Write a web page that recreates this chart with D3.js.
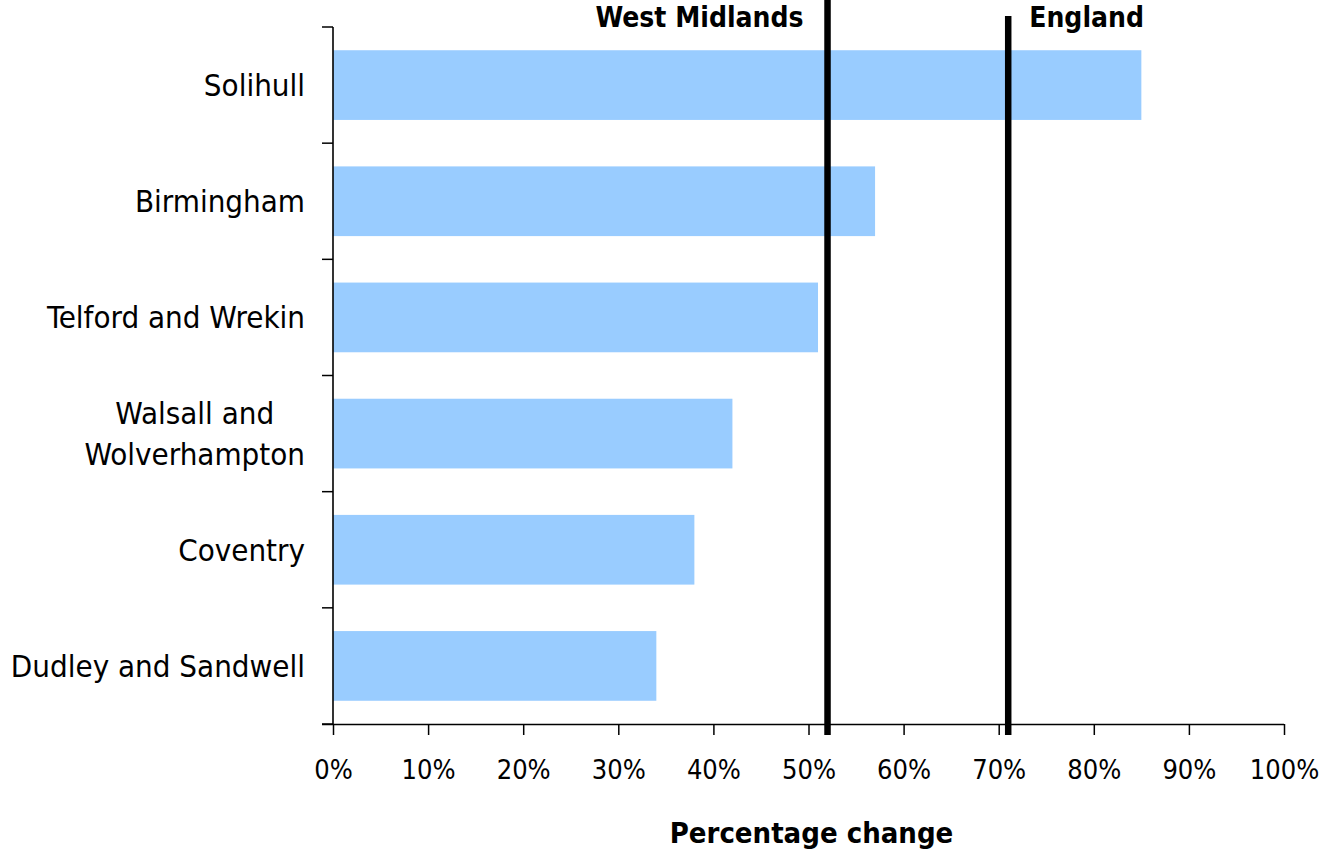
<!DOCTYPE html>
<html>
<head>
<meta charset="utf-8">
<script src="https://cdn.jsdelivr.net/npm/d3@7"></script>
<style>
body { margin: 0; background: #fff; }
svg { display: block; }
text { font-family: "DejaVu Sans", sans-serif; font-stretch: condensed; fill: #000; }
</style>
</head>
<body>
<svg id="chart" width="1320" height="851"></svg>
<script>
const categories = ["Solihull", "Birmingham", "Telford and Wrekin", "Walsall and\nWolverhampton", "Coventry", "Dudley and Sandwell"];
const values = [85, 57, 51, 42, 38, 34];
const refNames = ["West Midlands", "England"];
const refValues = [52, 71];
const xTicks = [0, 10, 20, 30, 40, 50, 60, 70, 80, 90, 100];
const xTitle = "Percentage change";

(function () {
const svg = d3.select("#chart");
const mLeft = 333, mRight = 1284, mTop = 27, mBottom = 724;
const FONT = "'DejaVu Sans', sans-serif";

const x = d3.scaleLinear().domain([0, 100]).range([mLeft, mRight]);
const y = d3.scaleBand().domain(categories).range([mTop, mBottom]).paddingInner(0.4).paddingOuter(0.2);

// bars
svg.append("g").selectAll("rect").data(values).join("rect")
  .attr("x", x(0))
  .attr("y", (d, i) => y(categories[i]))
  .attr("width", d => x(d) - x(0))
  .attr("height", y.bandwidth())
  .attr("fill", "#99CCFF");

// x axis
const xAxis = d3.axisBottom(x).tickValues(xTicks).tickFormat(d => d + "%").tickSize(11).tickSizeOuter(0).tickPadding(28);
const gx = svg.append("g").attr("transform", `translate(0,${mBottom})`).call(xAxis);
gx.select(".domain").attr("stroke", "#000").attr("stroke-width", 1.6).attr("d", `M${mLeft - 11},0.5H${mRight}`);
gx.selectAll(".tick line").attr("stroke", "#000").attr("stroke-width", 1.5);
gx.selectAll(".tick text").attr("font-size", 27).attr("font-family", FONT).attr("fill", "#000").attr("dy", "0.6em");

// y axis: line and ticks at band boundaries
const step = y.step();
const bounds = d3.range(categories.length + 1).map(i => mTop + i * step);
svg.append("line").attr("x1", mLeft).attr("x2", mLeft).attr("y1", mTop).attr("y2", mBottom)
  .attr("stroke", "#000").attr("stroke-width", 1.6);
svg.append("g").selectAll("line").data(bounds).join("line")
  .attr("x1", mLeft - 11).attr("x2", mLeft).attr("y1", d => d).attr("y2", d => d)
  .attr("stroke", "#000").attr("stroke-width", 1.5);

// category labels
const labG = svg.append("g");
categories.forEach((c, i) => {
  const lines = c.split("\n");
  const cy = y(c) + y.bandwidth() / 2;
  const lh = 41;
  const t = labG.append("text").attr("font-size", 31)
    .attr("font-family", FONT)
    .attr("text-anchor", "middle");
  lines.forEach((l, j) => {
    t.append("tspan").attr("x", 0).attr("y", cy + 11 + (j - (lines.length - 1) / 2) * lh).text(l);
  });
  let maxW = 0;
  t.selectAll("tspan").each(function() { maxW = Math.max(maxW, this.getComputedTextLength()); });
  t.selectAll("tspan").attr("x", 305 - maxW / 2);
});

// reference lines
refValues.forEach((v, i) => {
  svg.append("line").attr("x1", x(v)).attr("x2", x(v))
    .attr("y1", i === 0 ? 0 : 16).attr("y2", mBottom + 11)
    .attr("stroke", "#000").attr("stroke-width", 6.5);
});
svg.append("text").attr("x", x(refValues[0]) - 24).attr("y", 27).attr("text-anchor", "end")
  .attr("font-size", 28).attr("font-weight", "bold")
  .attr("font-family", FONT).text(refNames[0]);
svg.append("text").attr("x", x(refValues[1]) + 21).attr("y", 27).attr("text-anchor", "start")
  .attr("font-size", 28).attr("font-weight", "bold")
  .attr("font-family", FONT).text(refNames[1]);

// axis title
svg.append("text").attr("x", (mLeft + mRight) / 2 + 3).attr("y", 843).attr("text-anchor", "middle")
  .attr("font-size", 29).attr("font-weight", "bold")
  .attr("font-family", FONT).text(xTitle);
})();
</script>
</body>
</html>
